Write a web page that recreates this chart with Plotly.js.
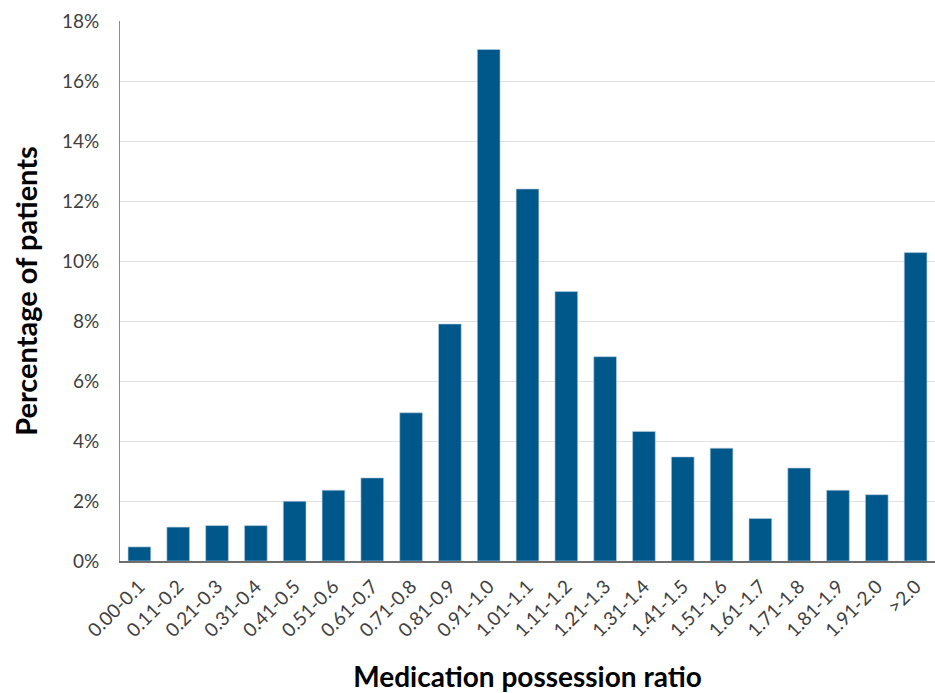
<!DOCTYPE html>
<html>
<head>
<meta charset="utf-8">
<script src="https://cdn.plot.ly/plotly-3.0.1.min.js"></script>
<style>html,body{margin:0;padding:0;background:#fff}#chart{width:935px;height:693px}</style>
</head>
<body>
<div id="chart"></div>
<script>
const categories = ["0.00-0.1","0.11-0.2","0.21-0.3","0.31-0.4","0.41-0.5","0.51-0.6","0.61-0.7","0.71-0.8","0.81-0.9","0.91-1.0","1.01-1.1","1.11-1.2","1.21-1.3","1.31-1.4","1.41-1.5","1.51-1.6","1.61-1.7","1.71-1.8","1.81-1.9","1.91-2.0",">2.0"];
const percentValues = [0.47,1.13,1.18,1.18,1.99,2.36,2.77,4.94,7.9,17.05,12.4,8.98,6.81,4.32,3.47,3.76,1.42,3.1,2.36,2.21,10.28];
const yTickValues = [0,2,4,6,8,10,12,14,16,18];
const yTickLabels = yTickValues.map(v => v + "%");

const trace = {
  type: "bar",
  x: categories,
  y: percentValues,
  marker: {color: "#00578A", line: {color: "#b9cfe0", width: 0.6}},
  hoverinfo: "x+y"
};

const layout = {
  width: 935, height: 693,
  margin: {l: 120, r: 0, t: 21, b: 132},
  paper_bgcolor: "#ffffff",
  plot_bgcolor: "#ffffff",
  bargap: 0.415,
  showlegend: false,
  font: {family: "Lato, 'Open Sans', sans-serif", color: "#404040"},
  xaxis: {
    type: "category",
    tickangle: -45,
    tickfont: {size: 19, color: "#404040"},
    ticklabelstandoff: 5,
    showgrid: false,
    showline: true, linecolor: "#6f6f6f", linewidth: 2,
    ticks: "",
    range: [-0.5, 20.5],
    title: {text: "Medication possession ratio", font: {size: 28, color: "#000000", family: "Lato, sans-serif", weight: "bold"}, standoff: 32}
  },
  yaxis: {
    range: [0, 18],
    tickvals: yTickValues,
    ticktext: yTickLabels,
    tickfont: {size: 19, color: "#404040"},
    ticklabelstandoff: 16,
    showgrid: true, gridcolor: "#e2e2e2", gridwidth: 1,
    showline: true, linecolor: "#8c8c8c", linewidth: 1,
    mirror: true,
    ticks: "", ticklen: 0,
    zeroline: false,
    title: {text: "Percentage of patients", font: {size: 29, color: "#000000", family: "Lato, sans-serif", weight: "bold"}, standoff: 15}
  }
};

Plotly.newPlot("chart", [trace], layout, {displayModeBar: false, staticPlot: true});
</script>
</body>
</html>
